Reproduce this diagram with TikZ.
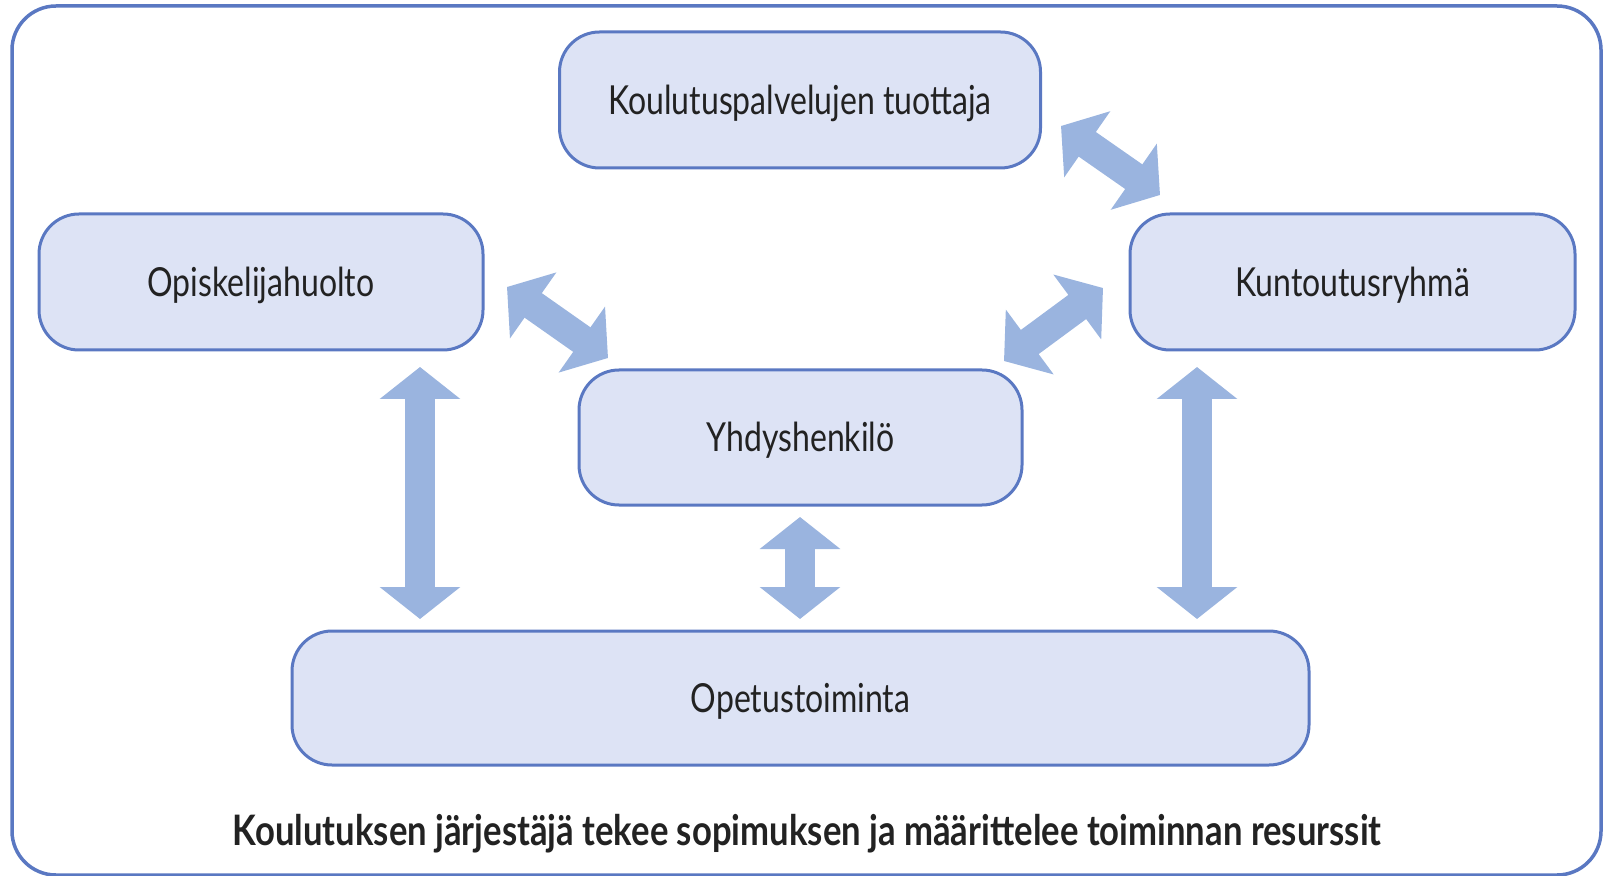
\documentclass[tikz,border=0pt]{standalone}
\usepackage{fontspec}
\setmainfont{Lato}[FakeStretch=0.80, BoldFeatures={FakeStretch=0.825}]
\usetikzlibrary{arrows.meta}
\definecolor{boxfill}{HTML}{DDE3F5}
\definecolor{boxline}{HTML}{5A78C2}
\definecolor{arrowfill}{HTML}{9AB4DF}
\definecolor{txt}{HTML}{222222}
\begin{document}
\begin{tikzpicture}[x=0.5pt,y=-0.5pt,
  box/.style={draw=boxline, line width=1.5pt, fill=boxfill, rounded corners=20pt,
    inner sep=0pt, text=txt, font=\fontsize{20}{24}\selectfont,
    text height=14.3pt, text depth=0pt},
  dbl/.style={draw=arrowfill, line width=15pt,
    {Triangle[length=16pt,width=39.5pt]}-{Triangle[length=16pt,width=39.5pt]}}]
\useasboundingbox (0,0) rectangle (1604,876);
\draw[boxline, line width=1.75pt, rounded corners=22pt] (12,6) rectangle (1601,875);

\node[box, minimum width=240.5pt, minimum height=68pt] (prov) at (800,100) {Koulutuspalvelujen tuottaja};
\node[box, minimum width=222pt, minimum height=68pt] (opis) at (261,282) {Opiskelijahuolto};
\node[box, minimum width=222.5pt, minimum height=68pt] (kunt) at (1352.5,282) {Kuntoutusryhmä};
\node[box, minimum width=221.5pt, minimum height=67.5pt] (yhdy) at (800.5,437.5) {Yhdyshenkilö};
\node[box, minimum width=508.5pt, minimum height=67pt] (opet) at (800.5,698) {Opetustoiminta};

\node[anchor=base, text=txt, font=\bfseries\fontsize{21}{25}\selectfont] (res) at (807,845)
  {Koulutuksen järjestäjä tekee sopimuksen ja määrittelee toiminnan resurssit};

\coordinate (a1) at (420,367); \coordinate (a2) at (420,619);
\coordinate (b1) at (800,517); \coordinate (b2) at (800,619);
\coordinate (c1) at (1197,367); \coordinate (c2) at (1197,619);
\coordinate (d1) at (507,287); \coordinate (d2) at (608,358);
\coordinate (e1) at (1061,126); \coordinate (e2) at (1160,195);
\coordinate (f1) at (1004,361); \coordinate (f2) at (1103,288);

\draw[dbl] (a1) -- (a2);
\draw[dbl] (b1) -- (b2);
\draw[dbl] (c1) -- (c2);
\draw[dbl] (d1) -- (d2);
\draw[dbl] (e1) -- (e2);
\draw[dbl] (f1) -- (f2);
\end{tikzpicture}
\end{document}
